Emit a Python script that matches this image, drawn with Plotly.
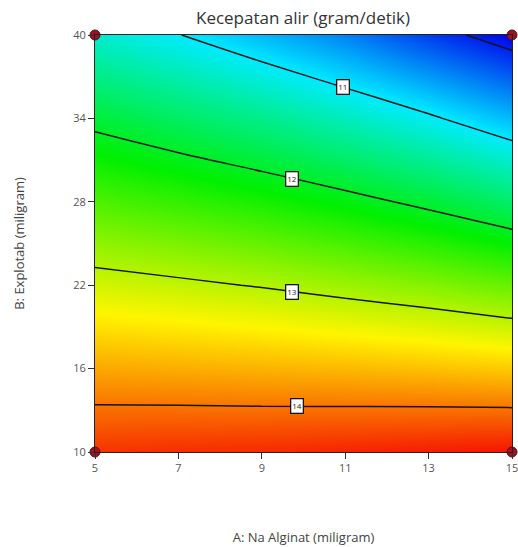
import numpy as np
import plotly.graph_objects as go

# Factor levels (A: Na Alginat, B: Explotab), both in miligram
a_levels = [5, 7, 9, 11, 13, 15]
b_levels = [10, 16, 22, 28, 34, 40]

# Predicted flow rate (gram/detik); rows follow b_levels, columns follow a_levels
flow_rate = [
    [14.34, 14.37, 14.39, 14.42, 14.46, 14.50],
    [13.74, 13.71, 13.68, 13.65, 13.61, 13.56],
    [13.13, 13.06, 12.98, 12.88, 12.77, 12.63],
    [12.52, 12.40, 12.27, 12.11, 11.92, 11.69],
    [11.90, 11.72, 11.53, 11.30, 11.05, 10.75],
    [11.22, 11.01, 10.75, 10.48, 10.14, 9.83],
]

# Contour levels and the A position of each inline level label
contour_levels = [10, 11, 12, 13, 14]
label_levels = [11, 12, 13, 14]
label_a = [10.95, 9.72, 9.72, 9.84]

# Design points at the corners of the region
design_a = [5, 15, 5, 15]
design_b = [10, 10, 40, 40]

z = np.array(flow_rate)

rainbow = [
    [0.00, "rgb(0,0,235)"],
    [0.25, "rgb(0,235,255)"],
    [0.50, "rgb(0,240,0)"],
    [0.75, "rgb(255,245,0)"],
    [1.00, "rgb(245,20,0)"],
]

fig = go.Figure()

fig.add_trace(go.Heatmap(
    x=a_levels, y=b_levels, z=flow_rate,
    zsmooth="best", colorscale=rainbow, showscale=False,
    hoverinfo="skip",
))

fig.add_trace(go.Contour(
    x=a_levels, y=b_levels, z=flow_rate,
    contours=dict(start=contour_levels[0], end=contour_levels[-1], size=1,
                  coloring="lines"),
    colorscale=[[0, "#151515"], [1, "#151515"]],
    line=dict(width=1.5),
    showscale=False, hoverinfo="skip",
))

fig.add_trace(go.Scatter(
    x=design_a, y=design_b, mode="markers",
    marker=dict(size=10, color="#9b1222", line=dict(color="#5a0a12", width=1)),
    cliponaxis=False, hoverinfo="skip", showlegend=False,
))


def level_b(level, a):
    """B value where the interpolated surface reaches `level` at factor A = a."""
    column = np.array([np.interp(a, a_levels, row) for row in z])
    return float(np.interp(level, column[::-1], np.array(b_levels)[::-1]))


for lev, a in zip(label_levels, label_a):
    fig.add_annotation(
        x=a, y=level_b(lev, a), text=str(lev), showarrow=False,
        font=dict(size=8, color="#222", family="Open Sans"),
        bgcolor="white", bordercolor="#151515", borderwidth=1.3, borderpad=1,
    )

axis_common = dict(
    showgrid=False, zeroline=False, ticks="outside", ticklen=6,
    tickcolor="#333", tickwidth=1, showline=True, linecolor="#222",
    linewidth=1, mirror=True, ticklabeloverflow="allow",
    tickfont=dict(size=11, color="#555", family="Open Sans"),
)

fig.update_xaxes(
    range=[5, 15], tickvals=a_levels, ticktext=[str(v) for v in a_levels],
    automargin=False,
    title=dict(text="A: Na Alginat (miligram)", standoff=58,
               font=dict(size=13, color="#444", family="Open Sans")),
    **axis_common,
)
fig.update_yaxes(
    range=[10, 40], tickvals=b_levels, ticktext=[str(v) for v in b_levels],
    title=dict(text="B: Explotab (miligram)", standoff=45,
               font=dict(size=13, color="#444", family="Open Sans")),
    **axis_common,
)

fig.update_layout(
    width=518, height=547,
    margin=dict(l=95, r=6, t=35, b=95),
    paper_bgcolor="white", plot_bgcolor="white",
    title=dict(text="Kecepatan alir (gram/detik)", x=0.585, xanchor="center",
               y=0.967, yanchor="middle",
               font=dict(size=17, color="#333", family="Open Sans")),
    showlegend=False,
)

fig.write_html("out.html")
